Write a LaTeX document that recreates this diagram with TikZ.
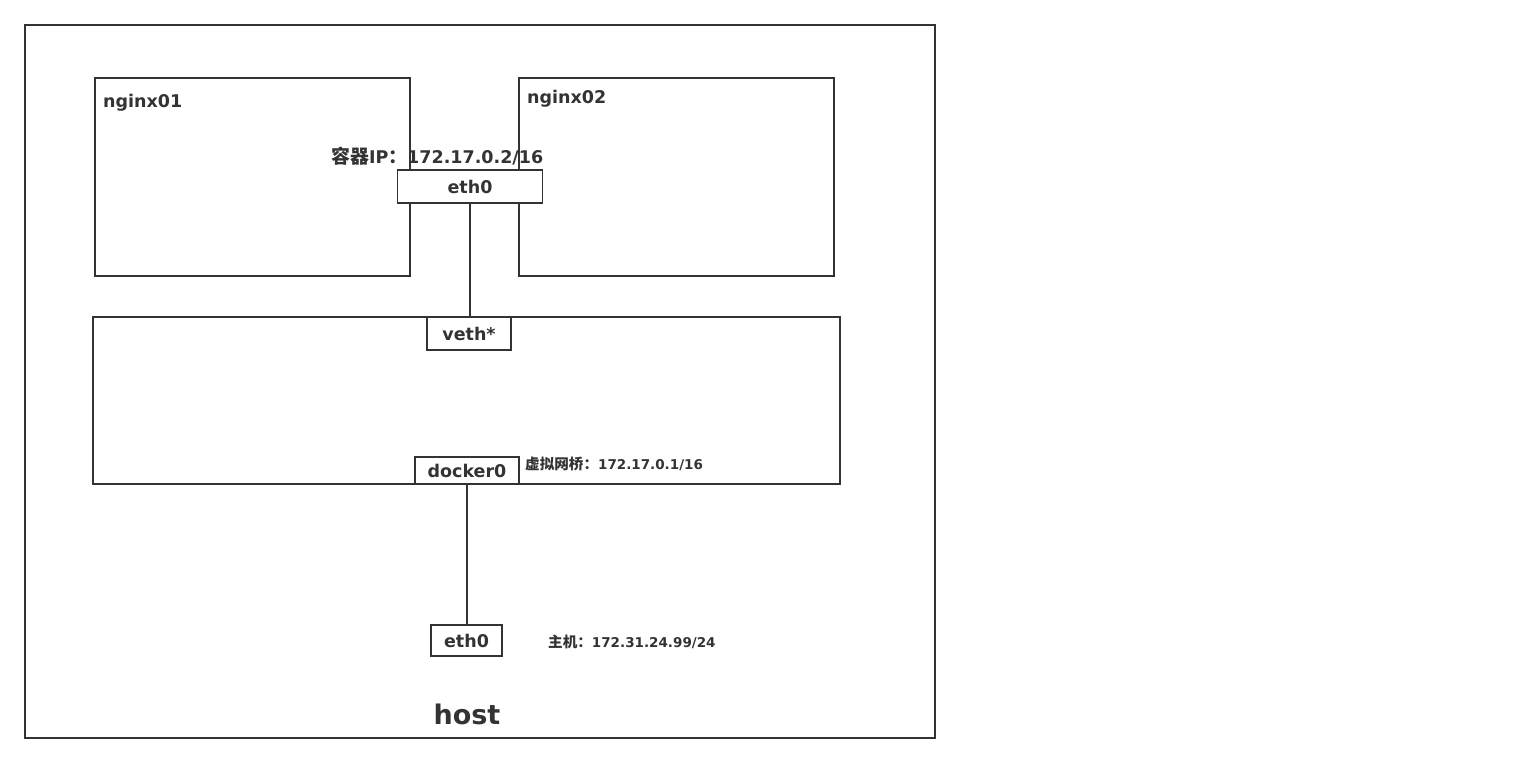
\documentclass[tikz,border=0pt]{standalone}
\usepackage{fontspec}
\setmainfont{DejaVu Sans}
\newfontfamily\cjk{Noto Sans CJK SC}[Scale=1.08]
\usetikzlibrary{positioning}
\definecolor{cInk}{HTML}{333333}
\tikzset{
  box/.style={draw=cInk,line width=1.6pt,inner sep=0pt},
  port/.style={draw=cInk,fill=white,line width=1.6pt,inner sep=0pt,text=cInk,font=\fontsize{17.5}{20}\selectfont\bfseries},
  ttl/.style={anchor=base west,inner sep=0pt,text=cInk,font=\fontsize{17.5}{20}\selectfont\bfseries},
  note/.style={anchor=base west,inner sep=0pt,text=cInk,font=\fontsize{13.5}{15}\selectfont\bfseries},
  wire/.style={draw=cInk,line width=1.8pt},
}
\begin{document}
\begin{tikzpicture}[x=1pt,y=-1pt]
    \useasboundingbox (0,0) rectangle (1536,764);
    % host frame and the two containers
    \node[box,minimum width=910pt,minimum height=713pt] (host) at (480,381.5) {};
    \node[box,minimum width=315pt,minimum height=198pt] (nginx1) at (252.5,177) {};
    \node[box,minimum width=315pt,minimum height=198pt] (nginx2) at (676.5,177) {};
    \node[ttl] (lbl1) at (103,107) {nginx01};
    \node[ttl] (lbl2) at (527,103) {nginx02};
    % bridge
    \node[box,minimum width=747pt,minimum height=167pt] (bridge) at (466.5,400.5) {};
    % ports
    \node[port,minimum width=145pt,minimum height=33pt] (ceth) at (470,186.5) {eth0};
    \node[port,minimum width=84pt,minimum height=33pt] (veth) at (469,333.5) {veth*};
    \node[port,minimum width=104pt,minimum height=27pt] (docker) at (467,470.5) {docker0};
    \node[port,minimum width=71pt,minimum height=31pt] (heth) at (466.5,640.5) {eth0};
    % links
    \draw[wire] (ceth.south) -- (ceth.south |- veth.north);
    \draw[wire] (docker.south) -- (docker.south |- heth.north);
    % addresses
    \node[ttl] (cip) at (331,163) {{\cjk 容器}IP{\cjk ：}172.17.0.2/16};
    \node[note] (bip) at (525,469) {{\cjk 虚拟网桥：}172.17.0.1/16};
    \node[note] (hip) at (548,647) {{\cjk 主机：}172.31.24.99/24};
    \node[anchor=base,inner sep=0pt,text=cInk,font=\fontsize{27}{32}\selectfont\bfseries] (hname) at (467,724) {host};
\end{tikzpicture}
\end{document}
